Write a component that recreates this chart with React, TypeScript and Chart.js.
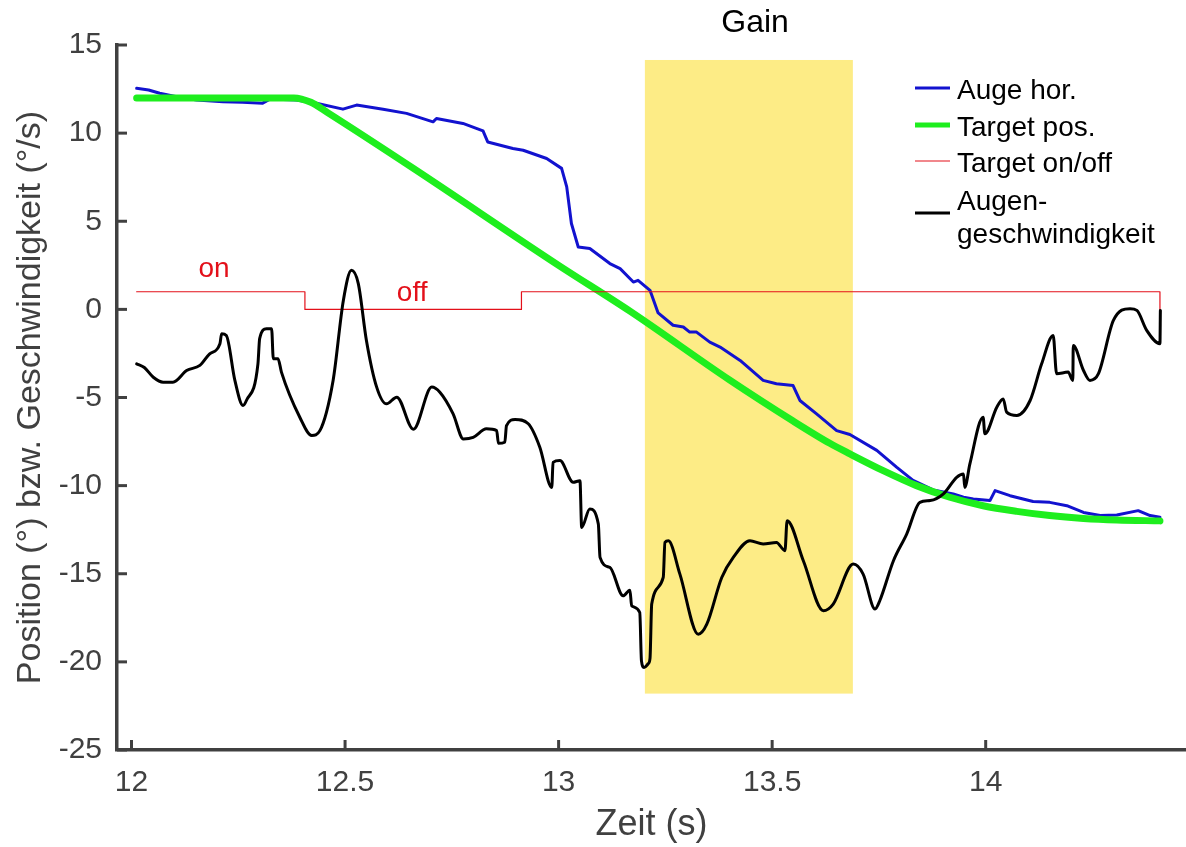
import React, { useEffect, useRef } from "react";
import { Chart, registerables } from "chart.js";

Chart.register(...registerables);

// ---------- data ----------
const BLUE_T = [12.012, 12.04, 12.066, 12.1, 12.152, 12.214, 12.26, 12.307, 12.324, 12.386, 12.433, 12.495, 12.527, 12.589, 12.644, 12.706, 12.714, 12.776, 12.823, 12.834, 12.893, 12.917, 12.972, 13.007, 13.019, 13.03, 13.046, 13.073, 13.12, 13.144, 13.175, 13.186, 13.214, 13.233, 13.268, 13.292, 13.307, 13.323, 13.354, 13.378, 13.425, 13.479, 13.51, 13.549, 13.565, 13.604, 13.651, 13.682, 13.745, 13.792, 13.83, 13.877, 13.924, 13.948, 13.971, 14.01, 14.022, 14.057, 14.111, 14.15, 14.19, 14.229, 14.268, 14.307, 14.357, 14.385, 14.408];
const BLUE_Y = [12.54, 12.45, 12.26, 12.1, 11.88, 11.78, 11.75, 11.7, 11.93, 11.88, 11.69, 11.36, 11.59, 11.36, 11.12, 10.64, 10.83, 10.55, 10.13, 9.5, 9.13, 9.03, 8.56, 8.0, 6.95, 4.87, 3.54, 3.45, 2.6, 2.31, 1.55, 1.65, 1.08, -0.2, -0.9, -1.0, -1.29, -1.29, -1.86, -2.14, -2.9, -4.03, -4.22, -4.32, -5.17, -5.93, -6.88, -7.1, -8.0, -8.96, -9.7, -10.24, -10.47, -10.66, -10.76, -10.85, -10.28, -10.57, -10.9, -10.95, -11.14, -11.52, -11.7, -11.67, -11.42, -11.7, -11.8];

const GREEN_T = [12.012, 12.38, 12.42, 12.46, 12.66, 13.0, 13.167, 13.4, 13.55, 13.635, 13.682, 13.76, 13.838, 13.916, 13.994, 14.073, 14.15, 14.229, 14.307, 14.408];
const GREEN_Y = [12.0, 12.0, 11.75, 11.15, 8.0, 2.5, -0.1, -4.0, -6.35, -7.6, -8.2, -9.15, -10.0, -10.66, -11.14, -11.46, -11.7, -11.86, -11.95, -12.0];

const RED_T = [12.012, 12.406, 12.406, 12.913, 12.913, 14.408, 14.408];
const RED_Y = [1, 1, 0, 0, 1, 1, 0];

const BLACK_T = [12.012, 12.03, 12.051, 12.074, 12.097, 12.129, 12.16, 12.183, 12.207, 12.211, 12.222, 12.242, 12.261, 12.269, 12.296, 12.3, 12.316, 12.328, 12.332, 12.343, 12.351, 12.394, 12.422, 12.441, 12.472, 12.496, 12.515, 12.531, 12.55, 12.574, 12.597, 12.621, 12.66, 12.703, 12.722, 12.753, 12.777, 12.8, 12.831, 12.855, 12.859, 12.874, 12.878, 12.898, 12.929, 12.956, 12.984, 12.987, 13.003, 13.034, 13.05, 13.054, 13.073, 13.093, 13.097, 13.12, 13.151, 13.167, 13.171, 13.19, 13.194, 13.2, 13.21, 13.214, 13.218, 13.245, 13.249, 13.257, 13.284, 13.327, 13.347, 13.382, 13.409, 13.448, 13.479, 13.51, 13.53, 13.535, 13.573, 13.62, 13.643, 13.69, 13.713, 13.741, 13.752, 13.784, 13.815, 13.846, 13.87, 13.901, 13.932, 13.948, 13.951, 13.963, 13.994, 13.998, 14.026, 14.041, 14.049, 14.073, 14.104, 14.131, 14.158, 14.166, 14.193, 14.204, 14.205, 14.229, 14.244, 14.264, 14.299, 14.338, 14.354, 14.377, 14.408, 14.409];
const BLACK_Y = [-3.09, -3.3, -3.85, -4.13, -4.13, -3.47, -3.18, -2.52, -1.95, -1.38, -1.48, -4.03, -5.45, -5.17, -3.09, -1.66, -1.1, -1.1, -2.8, -2.8, -3.56, -6.12, -7.16, -6.88, -4.03, 0.51, 2.22, 1.46, -1.76, -4.41, -5.36, -4.98, -6.8, -4.41, -4.7, -5.93, -7.35, -7.26, -6.78, -6.88, -7.6, -7.54, -6.6, -6.25, -6.49, -7.82, -10.1, -8.68, -8.58, -9.81, -9.72, -12.37, -11.32, -12.18, -14.07, -14.64, -16.25, -15.93, -16.82, -17.2, -19.94, -20.32, -20.1, -19.8, -16.72, -15.21, -13.22, -13.13, -15.02, -18.43, -17.86, -15.21, -14.07, -13.13, -13.31, -13.22, -13.69, -11.99, -14.26, -17.1, -16.72, -14.45, -15.02, -17.0, -16.53, -14.26, -12.75, -10.95, -10.85, -10.47, -9.53, -9.34, -10.1, -8.77, -6.12, -7.06, -5.55, -5.08, -5.83, -6.02, -5.17, -3.09, -1.48, -3.65, -3.56, -4.03, -2.05, -3.47, -4.03, -3.65, -0.63, 0.04, -0.06, -1.19, -1.95, -0.06];

const GAIN_X = [13.202, 13.689];
const GAIN_Y = [-21.8, 14.15];

const X_TICKS = [12, 12.5, 13, 13.5, 14];
const Y_TICKS = [-25, -20, -15, -10, -5, 0, 5, 10, 15];
const X_RANGE = [11.966, 14.469];
const Y_RANGE = [-25, 15];

const LEGEND_LABELS = [["Auge hor."], ["Target pos."], ["Target on/off"], ["Augen-", "geschwindigkeit"]];
const SERIES_COLORS = ["#1212CF", "#1EEE1E", "#E3101A", "#000000"];
const SERIES_WIDTHS = [3, 7, 1.2, 3];

const ON_LABEL = { text: "on", x: 12.193, y: 2.3 };
const OFF_LABEL = { text: "off", x: 12.657, y: 0.94 };
const GAIN_LABEL = { text: "Gain", x: 13.46 };

const FONT = "'Liberation Sans', Arial, sans-serif";
const AXIS_COLOR = "#404040";

const pts = (xs: number[], ys: number[]) => xs.map((x, i) => ({ x, y: ys[i] }));

export default function App() {
  const ref = useRef<HTMLCanvasElement>(null);

  useEffect(() => {
    const canvas = ref.current!;

    const gainBox = {
      id: "gainBox",
      beforeDatasetsDraw(chart: any) {
        const { ctx, scales } = chart;
        const x0 = scales.x.getPixelForValue(GAIN_X[0]);
        const x1 = scales.x.getPixelForValue(GAIN_X[1]);
        const y0 = scales.y.getPixelForValue(GAIN_Y[1]);
        const y1 = scales.y.getPixelForValue(GAIN_Y[0]);
        ctx.save();
        ctx.fillStyle = "#FDEC86";
        ctx.fillRect(x0, y0, x1 - x0, y1 - y0);
        ctx.restore();
      },
    };

    const inwardTicks = {
      id: "inwardTicks",
      afterDraw(chart: any) {
        const { ctx, scales, chartArea } = chart;
        ctx.save();
        ctx.strokeStyle = AXIS_COLOR;
        ctx.lineWidth = 3;
        X_TICKS.forEach((v) => {
          const px = scales.x.getPixelForValue(v);
          ctx.beginPath();
          ctx.moveTo(px, chartArea.bottom);
          ctx.lineTo(px, chartArea.bottom - 10);
          ctx.stroke();
        });
        Y_TICKS.forEach((v) => {
          const py = scales.y.getPixelForValue(v);
          ctx.beginPath();
          ctx.moveTo(chartArea.left, py);
          ctx.lineTo(chartArea.left + 10, py);
          ctx.stroke();
        });
        ctx.restore();
      },
    };

    const annotations = {
      id: "annotations",
      afterDatasetsDraw(chart: any) {
        const { ctx, scales, chartArea } = chart;
        ctx.save();
        ctx.textAlign = "center";
        ctx.textBaseline = "middle";
        ctx.fillStyle = SERIES_COLORS[2];
        ctx.font = `28px ${FONT}`;
        [ON_LABEL, OFF_LABEL].forEach((l) => {
          ctx.fillText(l.text, scales.x.getPixelForValue(l.x), scales.y.getPixelForValue(l.y));
        });
        ctx.fillStyle = "#000";
        ctx.font = `32px ${FONT}`;
        ctx.fillText(GAIN_LABEL.text, scales.x.getPixelForValue(GAIN_LABEL.x), chartArea.top - 22);

        // legend
        const sx0 = 915, sx1 = 950, tx = 957;
        const rows = [91, 128, 164, 202];
        ctx.font = `28px ${FONT}`;
        ctx.textAlign = "left";
        LEGEND_LABELS.forEach((lines, i) => {
          const y = rows[i];
          const ly = lines.length > 1 ? y + 11 : y - 3;
          ctx.strokeStyle = SERIES_COLORS[i];
          ctx.lineWidth = i === 1 ? 5 : i === 2 ? 1.2 : 3;
          ctx.beginPath();
          ctx.moveTo(sx0, ly);
          ctx.lineTo(sx1, ly);
          ctx.stroke();
          ctx.fillStyle = "#000";
          lines.forEach((t, j) => ctx.fillText(t, tx, y + j * 33));
        });
        ctx.restore();
      },
    };

    const mk = (i: number, xs: number[], ys: number[], order: number, mono: boolean) => ({
      label: LEGEND_LABELS[i].join(""),
      data: pts(xs, ys),
      showLine: true,
      borderColor: SERIES_COLORS[i],
      backgroundColor: SERIES_COLORS[i],
      borderWidth: SERIES_WIDTHS[i],
      pointRadius: 0,
      order,
      cubicInterpolationMode: mono ? "monotone" : "default",
      tension: 0,
      borderCapStyle: "round",
      borderJoinStyle: "round",
    });

    const chart = new Chart(canvas, {
      type: "scatter",
      data: {
        datasets: [
          mk(0, BLUE_T, BLUE_Y, 3, false),
          mk(1, GREEN_T, GREEN_Y, 2, true),
          mk(2, RED_T, RED_Y, 1, false),
          mk(3, BLACK_T, BLACK_Y, 0, true),
        ] as any,
      },
      options: {
        responsive: false,
        animation: false,
        devicePixelRatio: 1,
        layout: { padding: { top: 45, right: 0, left: 0, bottom: 0 } },
        plugins: { legend: { display: false }, tooltip: { enabled: false }, title: { display: false } },
        scales: {
          x: {
            type: "linear",
            min: X_RANGE[0],
            max: X_RANGE[1],
            grid: { display: false, drawTicks: false },
            border: { display: true, color: AXIS_COLOR, width: 3.5 },
            afterBuildTicks: (s: any) => { s.ticks = X_TICKS.map((v) => ({ value: v })); },
            afterFit: (s: any) => { s.height = 97; },
            ticks: {
              color: AXIS_COLOR,
              font: { family: FONT, size: 30 },
              padding: 15,
              maxRotation: 0,
              autoSkip: false,
              callback: (v: any) => String(v),
            },
            title: {
              display: true,
              text: "Zeit (s)",
              color: AXIS_COLOR,
              font: { family: FONT, size: 36 },
              padding: { top: 0, bottom: 0 },
            },
          },
          y: {
            type: "linear",
            min: Y_RANGE[0],
            max: Y_RANGE[1],
            grid: { display: false, drawTicks: false },
            border: { display: true, color: AXIS_COLOR, width: 3.5 },
            afterBuildTicks: (s: any) => { s.ticks = Y_TICKS.map((v) => ({ value: v })); },
            afterFit: (s: any) => { s.width = 117; },
            ticks: {
              color: AXIS_COLOR,
              font: { family: FONT, size: 30 },
              padding: 15,
              autoSkip: false,
              callback: (v: any) => String(v),
            },
            title: {
              display: true,
              text: "Position (°) bzw. Geschwindigkeit (°/s)",
              color: AXIS_COLOR,
              font: { family: FONT, size: 34 },
              padding: { top: 10, bottom: 0 },
            },
          },
        },
      },
      plugins: [gainBox, inwardTicks, annotations],
    } as any);

    return () => chart.destroy();
  }, []);

  return (
    <div style={{ position: "absolute", left: 0, top: 0, width: 1186, height: 847, background: "#fff" }}>
      <canvas ref={ref} width={1186} height={847} style={{ display: "block", width: 1186, height: 847 }} />
    </div>
  );
}
